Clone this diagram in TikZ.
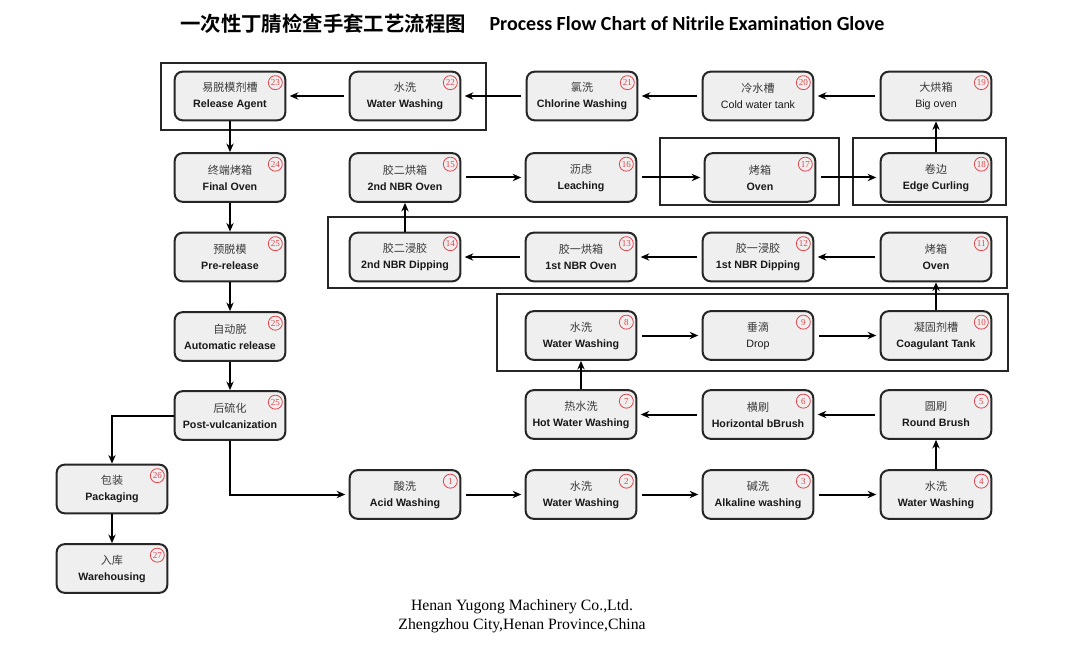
\documentclass[tikz,border=0pt]{standalone}
\usepackage{fontspec}
\setmainfont{Liberation Sans}
\newfontfamily\cjk{Noto Sans CJK SC}
\newfontfamily\cjkbold{Noto Sans CJK SC Bold}
\newfontfamily\carlito{Carlito}
\newfontfamily\serifft{Liberation Serif}
\usetikzlibrary{arrows.meta}
\definecolor{boxfill}{HTML}{EFEFEF}
\definecolor{numred}{HTML}{E0474C}
\definecolor{cntext}{HTML}{3A3A3A}
\tikzset{
 procbox/.style={draw=black!85, line width=1.5pt, rounded corners=6pt, fill=boxfill,
   minimum width=83pt, minimum height=36.5pt, align=center, inner sep=0pt,
   font=\fontsize{8pt}{12pt}\selectfont, text=black!90},
 numc/.style={circle, draw=numred, line width=0.6pt, text=numred, inner sep=0pt,
   minimum size=10.5pt, font=\serifft\fontsize{6.8pt}{6.8pt}\selectfont},
 flow/.style={line width=1.5pt, -{Stealth[length=6.5pt,width=5.5pt]}, shorten <=3.5pt, shorten >=2.5pt},
 vflow/.style={line width=1.5pt, -{Stealth[length=6.5pt,width=5.5pt]}},
 grp/.style={draw=black!85, line width=1.1pt},
}
\newcommand\procstep[6]{%
 \node[procbox] (#1) at (#2,#3) {{\cjk\color{cntext}\fontsize{8.3pt}{12pt}\selectfont#4}\\#5};
 \node[numc] (#1num) at ([shift={(-11,12)}]#1.north east) {#6};
}
\begin{document}
\begin{tikzpicture}[x=0.75pt,y=-0.75pt]
\path[use as bounding box] (0,0) rectangle (1078,656);
% title
\node[font=\cjkbold\fontsize{15.3pt}{15.3pt}\selectfont] (titlecn) at (323,24) {一次性丁腈检查手套工艺流程图};
\node[font=\carlito\bfseries\fontsize{15pt}{15pt}\selectfont] (titleen) at (687,24) {Process Flow Chart of Nitrile Examination Glove};
% groups
\draw[grp] (161,63) rectangle (486,130);
\draw[grp] (660,138) rectangle (839,205);
\draw[grp] (853,138) rectangle (1006,205);
\draw[grp] (328,217) rectangle (1007,288);
\draw[grp] (497,294) rectangle (1008,371);
% row 1
\procstep{s23}{230}{96}{易脱模剂槽}{\textbf{Release Agent}}{23}
\procstep{s22}{405}{96}{水洗}{\textbf{Water Washing}}{22}
\procstep{s21}{582}{96}{氯洗}{\textbf{Chlorine Washing}}{21}
\procstep{s20}{758}{96}{冷水槽}{Cold water tank}{20}
\procstep{s19}{936}{96}{大烘箱}{Big oven}{19}
% row 2
\procstep{s24}{230}{177.5}{终端烤箱}{\textbf{Final Oven}}{24}
\procstep{s15}{405}{177.5}{胶二烘箱}{\textbf{2nd NBR Oven}}{15}
\procstep{s16}{581}{177.5}{沥虑}{\textbf{Leaching}}{16}
\procstep{s17}{760}{177.5}{烤箱}{\textbf{Oven}}{17}
\procstep{s18}{936}{177.5}{卷边}{\textbf{Edge Curling}}{18}
% row 3
\procstep{s25}{230}{257}{预脱模}{\textbf{Pre-release}}{25}
\procstep{s14}{405}{257}{胶二浸胶}{\textbf{2nd NBR Dipping}}{14}
\procstep{s13}{581}{257}{胶一烘箱}{\textbf{1st NBR Oven}}{13}
\procstep{s12}{758}{257}{胶一浸胶}{\textbf{1st NBR Dipping}}{12}
\procstep{s11}{936}{257}{烤箱}{\textbf{Oven}}{11}
% row 4
\procstep{sauto}{230}{336.5}{自动脱}{\textbf{Automatic release}}{25}
\procstep{s8}{581}{335.5}{水洗}{\textbf{Water Washing}}{8}
\procstep{s9}{758}{335.5}{垂滴}{Drop}{9}
\procstep{s10}{936}{335.5}{凝固剂槽}{\textbf{Coagulant Tank}}{10}
% row 5
\procstep{spost}{230}{415.5}{后硫化}{\textbf{Post-vulcanization}}{25}
\procstep{s7}{581}{414.5}{热水洗}{\textbf{Hot Water Washing}}{7}
\procstep{s6}{758}{414.5}{横刷}{\textbf{Horizontal bBrush}}{6}
\procstep{s5}{936}{414.5}{圆刷}{\textbf{Round Brush}}{5}
% row 6
\procstep{s1}{405}{494.5}{酸洗}{\textbf{Acid Washing}}{1}
\procstep{s2}{581}{494.5}{水洗}{\textbf{Water Washing}}{2}
\procstep{s3}{758}{494.5}{碱洗}{\textbf{Alkaline washing}}{3}
\procstep{s4}{936}{494.5}{水洗}{\textbf{Water Washing}}{4}
% left column
\procstep{spack}{112}{489}{包装}{\textbf{Packaging}}{26}
\procstep{sware}{112}{568.5}{入库}{\textbf{Warehousing}}{27}
% connectors
\draw[flow] (s1) -- (s2);
\draw[flow] (s2) -- (s3);
\draw[flow] (s3) -- (s4);
\draw[vflow] (s4) -- (s5);
\draw[flow] (s5) -- (s6);
\draw[flow] (s6) -- (s7);
\draw[vflow] (s7) -- (s8);
\draw[flow] (s8) -- (s9);
\draw[flow] (s9) -- (s10);
\draw[vflow] (s10) -- (s11);
\draw[flow] (s11) -- (s12);
\draw[flow] (s12) -- (s13);
\draw[flow] (s13) -- (s14);
\draw[vflow] (s14) -- (s15);
\draw[flow] (s15) -- (s16);
\draw[flow] (s16) -- (s17);
\draw[flow] (s17) -- (s18);
\draw[vflow] (s18) -- (s19);
\draw[flow] (s19) -- (s20);
\draw[flow] (s20) -- (s21);
\draw[flow] (s21) -- (s22);
\draw[flow] (s22) -- (s23);
\draw[vflow] (s23) -- (s24);
\draw[vflow] (s24) -- (s25);
\draw[vflow] (s25) -- (sauto);
\draw[vflow] (sauto) -- (spost);
\draw[flow, shorten <=0pt] (spost.south) |- (s1.west);
\draw[vflow] (spost.west) -| (spack.north);
\draw[vflow] (spack) -- (sware);
% footer
\node[font=\serifft\fontsize{11.8pt}{14.5pt}\selectfont, align=center] (footer) at (522,616)
  {Henan Yugong Machinery Co.,Ltd.\\Zhengzhou City,Henan Province,China};
\end{tikzpicture}
\end{document}
